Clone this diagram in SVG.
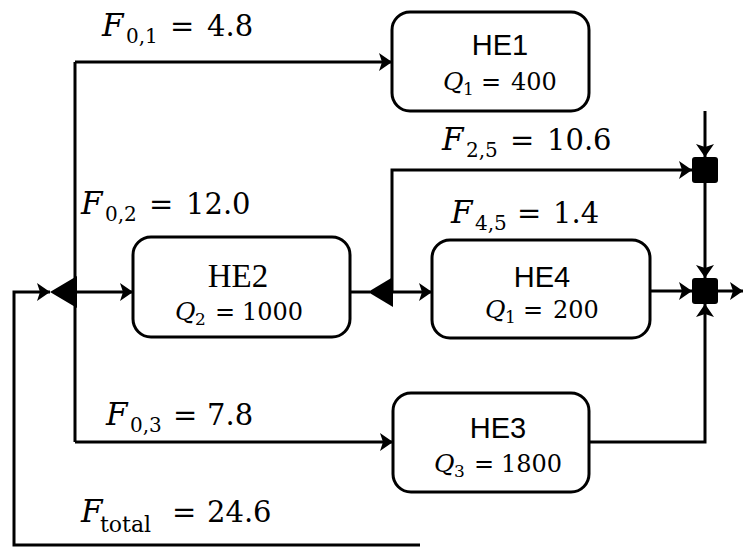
<svg xmlns="http://www.w3.org/2000/svg" width="743" height="548" viewBox="0 0 743 548">
<style>
.ln{fill:none;stroke:#000;stroke-width:3;}
.box{fill:#fff;stroke:#000;stroke-width:3;}
.ttl{font-family:"Liberation Sans",Arial,sans-serif;font-size:29px;fill:#000;text-anchor:middle;}
.ttls{font-family:"Liberation Serif","Times New Roman",serif;font-size:33px;fill:#000;text-anchor:middle;}
.m{font-family:"DejaVu Serif","Liberation Serif",serif;font-size:29px;fill:#000;}
.q{font-family:"DejaVu Serif","Liberation Serif",serif;font-size:24px;fill:#000;}
.it{font-style:italic;}
.fi{font-size:31px;}
.qi{font-size:25px;}
.sb{font-size:20px;}
.st{font-size:22px;}
.sq{font-size:17px;}
</style>
<defs>
<marker id="ah" markerUnits="userSpaceOnUse" markerWidth="14" markerHeight="18" viewBox="0 0 14 18" refX="13" refY="9" orient="auto">
<path d="M0,0 L13,9 L0,18 L3,9 Z" fill="#000"/>
</marker>
</defs>
<g id="connectors">
<path class="ln" d="M420,545 H14 V292 H50" marker-end="url(#ah)"/>
<path class="ln" d="M75,442 V62"/>
<path class="ln" d="M75,62 H392" marker-end="url(#ah)"/>
<path class="ln" d="M77,292 H133" marker-end="url(#ah)"/>
<path class="ln" d="M75,442 H393" marker-end="url(#ah)"/>
<path class="ln" d="M350,292 H370"/>
<path class="ln" d="M392,292 V170 H692" marker-end="url(#ah)"/>
<path class="ln" d="M393,292 H432" marker-end="url(#ah)"/>
<path class="ln" d="M705,111 V157" marker-end="url(#ah)"/>
<path class="ln" d="M705,183 V278" marker-end="url(#ah)"/>
<path class="ln" d="M650,291 H692" marker-end="url(#ah)"/>
<path class="ln" d="M589,442 H705 V304" marker-end="url(#ah)"/>
<path class="ln" d="M718,291 H743" marker-end="url(#ah)"/>
</g>
<g id="splitter1"><polygon points="50,292 77,276 77,308" fill="#000"/></g>
<g id="splitter2"><polygon points="368,292 393,277 393,307" fill="#000"/></g>
<g id="mixer1"><rect x="692" y="157" width="26" height="26" rx="3" fill="#000"/></g>
<g id="mixer2"><rect x="692" y="278" width="26" height="26" rx="3" fill="#000"/></g>
<g id="HE1">
<rect class="box" x="392" y="12" width="197" height="99" rx="18"/>
<text class="ttl" x="500" y="55">HE1</text>
<text class="q"><tspan class="it qi" x="443" y="90">Q</tspan><tspan class="sq" x="463" y="95">1</tspan><tspan x="481" y="90">=</tspan><tspan x="511" y="90">400</tspan></text>
</g>
<g id="HE2">
<rect class="box" x="133" y="237" width="217" height="100" rx="18"/>
<text class="ttls" x="238" y="287">HE2</text>
<text class="q"><tspan class="it qi" x="175" y="320">Q</tspan><tspan class="sq" x="195" y="325">2</tspan><tspan x="215" y="320">=</tspan><tspan x="242" y="320">1000</tspan></text>
</g>
<g id="HE4">
<rect class="box" x="432" y="240" width="218" height="98" rx="18"/>
<text class="ttl" x="542" y="287">HE4</text>
<text class="q"><tspan class="it qi" x="485" y="318">Q</tspan><tspan class="sq" x="505" y="323">1</tspan><tspan x="523" y="318">=</tspan><tspan x="553" y="318">200</tspan></text>
</g>
<g id="HE3">
<rect class="box" x="393" y="393" width="196" height="99" rx="18"/>
<text class="ttl" x="498" y="438">HE3</text>
<text class="q"><tspan class="it qi" x="434" y="472">Q</tspan><tspan class="sq" x="454" y="477">3</tspan><tspan x="474" y="472">=</tspan><tspan x="501" y="472">1800</tspan></text>
</g>
<g id="labels">
<text class="m"><tspan class="it fi" x="102" y="36">F</tspan><tspan class="sb" x="126" y="43">0,1</tspan><tspan x="170" y="36">=</tspan><tspan x="207" y="36">4.8</tspan></text>
<text class="m"><tspan class="it fi" x="442" y="150">F</tspan><tspan class="sb" x="466" y="157">2,5</tspan><tspan x="510" y="150">=</tspan><tspan x="547" y="150">10.6</tspan></text>
<text class="m"><tspan class="it fi" x="81" y="214">F</tspan><tspan class="sb" x="105" y="221">0,2</tspan><tspan x="149" y="214">=</tspan><tspan x="186" y="214">12.0</tspan></text>
<text class="m"><tspan class="it fi" x="451" y="223">F</tspan><tspan class="sb" x="475" y="230">4,5</tspan><tspan x="517" y="223">=</tspan><tspan x="553" y="223">1.4</tspan></text>
<text class="m"><tspan class="it fi" x="106" y="425">F</tspan><tspan class="sb" x="130" y="432">0,3</tspan><tspan x="173" y="425">=</tspan><tspan x="207" y="425">7.8</tspan></text>
<text class="m"><tspan class="it fi" x="81" y="522">F</tspan><tspan class="st" x="100" y="532">total</tspan><tspan x="172" y="522">=</tspan><tspan x="207" y="522">24.6</tspan></text>
</g>
</svg>
